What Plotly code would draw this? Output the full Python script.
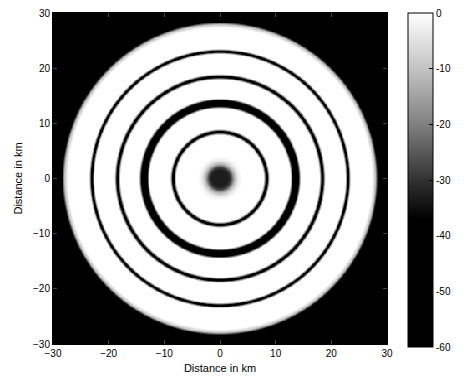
import numpy as np
import plotly.graph_objects as go

# Radial level profile (distance from centre in km -> level in dB)
profile_r_km = [0, 1.5, 2.0, 2.6, 3.3, 4.0,
                7.85, 8.15, 8.4, 8.65, 8.95,
                12.65, 13.0, 13.3, 13.9, 14.2, 14.55,
                17.85, 18.15, 18.4, 18.65, 18.95,
                22.5, 22.78, 23.0, 23.22, 23.5,
                27.3, 27.9, 28.3, 28.8, 30, 43]
profile_db = [-33, -33, -28, -12, -3, 0,
              0, -25, -60, -25, 0,
              0, -30, -60, -60, -30, 0,
              0, -25, -60, -25, 0,
              0, -25, -60, -25, 0,
              0, -10, -35, -60, -60, -60]

axis_ticks = [-30, -20, -10, 0, 10, 20, 30]
cbar_ticks = [0, -10, -20, -30, -40, -50, -60]

grid = np.linspace(-30, 30, 401)
X, Y = np.meshgrid(grid, grid)
R = np.sqrt(X**2 + Y**2)
Z = np.interp(R, profile_r_km, profile_db)

colorscale = [
    [0.0, "rgb(0,0,0)"],
    [(60 - 37) / 60, "rgb(0,0,0)"],
    [(60 - 30) / 60, "rgb(50,50,50)"],
    [(60 - 20) / 60, "rgb(128,128,128)"],
    [(60 - 10) / 60, "rgb(195,195,195)"],
    [1.0, "rgb(255,255,255)"],
]

W, H = 467, 389
L, R_, T, B = 53, 80, 13, 45
pw, ph = W - L - R_, H - T - B

fig = go.Figure(go.Heatmap(
    x=grid, y=grid, z=Z, zmin=-60, zmax=0,
    colorscale=colorscale,
    colorbar=dict(
        x=(408 - L) / pw, xanchor="left", xpad=0,
        y=1, yanchor="top", ypad=0,
        len=334 / ph, lenmode="fraction",
        thickness=25, thicknessmode="pixels",
        outlinecolor="black", outlinewidth=1,
        tickvals=cbar_ticks, ticktext=[str(t) for t in cbar_ticks],
        ticks="inside", ticklen=4, tickcolor="black",
        tickfont=dict(family="Liberation Sans", size=10, color="black"),
    ),
))

fig.update_layout(
    width=W, height=H,
    margin=dict(l=L, r=R_, t=T, b=B, autoexpand=False),
    paper_bgcolor="white", plot_bgcolor="black",
    font=dict(family="Liberation Sans", size=10, color="black"),
)
fig.update_xaxes(
    range=[-30, 30], tickvals=axis_ticks, ticks="inside", ticklen=4,
    showline=True, linecolor="black", linewidth=1, mirror="ticks",
    showgrid=False, zeroline=False,
    title=dict(text="Distance in km", font=dict(size=11), standoff=6),
)
fig.update_yaxes(
    range=[-30, 30], tickvals=axis_ticks, ticks="inside", ticklen=4,
    showline=True, linecolor="black", linewidth=1, mirror="ticks",
    showgrid=False, zeroline=False,
    title=dict(text="Distance in km", font=dict(size=11), standoff=8),
)

fig.write_html("out.html", config={"displayModeBar": False},
               post_script="document.body.style.margin='0';")
